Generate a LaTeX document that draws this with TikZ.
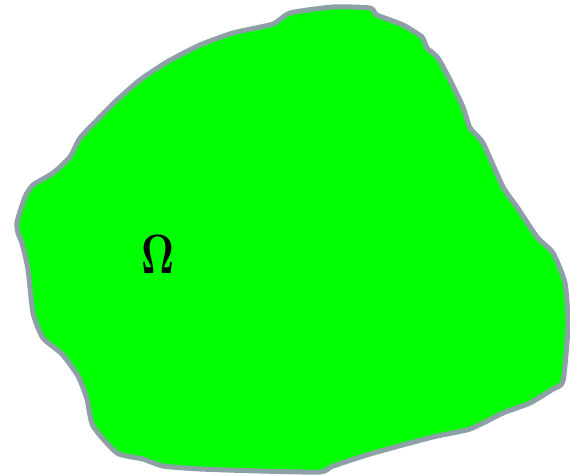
\documentclass[tikz,border=0pt]{standalone}
\begin{document}
\begin{tikzpicture}[x=1pt,y=-1pt]
\definecolor{rim}{RGB}{140,160,166}
\definecolor{blob}{RGB}{0,255,0}
\useasboundingbox (0,0) rectangle (570,476);
\filldraw[fill=blob,draw=rim,line width=5pt,line join=round]
 plot[smooth cycle,tension=0.35] coordinates {
 (290,13) (333,7) (370,8) (377,15) (403,25) (422,37) (427,48) (438,58)
 (450,80) (463,107) (470,128) (483,143) (503,187) (517,207) (537,237)
 (553,253) (565,283) (568,326) (563,381) (553,389) (530,403) (503,413)
 (470,429) (437,436) (410,443) (370,454) (333,466) (320,472) (260,471)
 (200,469) (163,466) (143,459) (117,453) (93,426) (87,399) (78,376)
 (62,354) (43,338) (33,313) (28,269) (22,243) (18,233) (17,222) (25,197)
 (33,185) (53,173) (70,157) (80,138) (100,117) (117,100) (140,80)
 (167,62) (200,45) (233,33) (273,24) };
\node[inner sep=0pt] (omega) at (157.5,254) {\resizebox{33pt}{38pt}{$\mathbf{\Omega}$}};
\end{tikzpicture}
\end{document}
